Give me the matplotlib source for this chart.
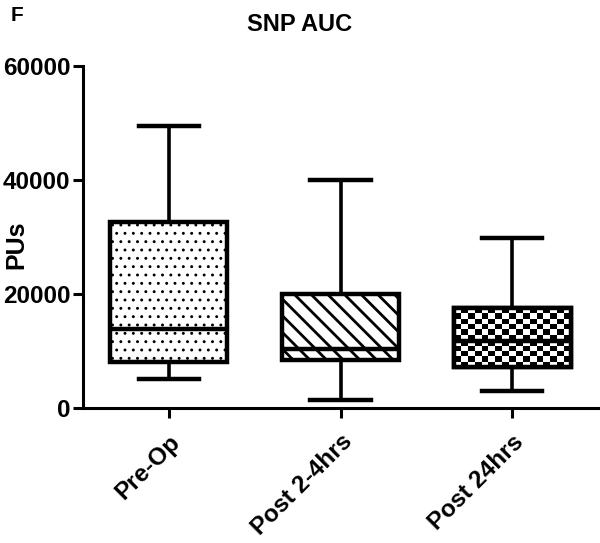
import numpy as np
import matplotlib
matplotlib.use("Agg")
import matplotlib.pyplot as plt
import matplotlib.transforms as mtransforms

# values
groups = ["Pre-Op", "Post 2-4hrs", "Post 24hrs"]
whisker_low = [5140, 1450, 3070]
q1 = [8120, 8350, 7160]
median = [13800, 10360, 11800]
q3 = [32700, 19960, 17460]
whisker_high = [49470, 40040, 29860]

plt.rcParams["font.family"] = ["Liberation Sans", "DejaVu Sans"]
plt.rcParams["font.weight"] = "bold"
plt.rcParams["hatch.linewidth"] = 2.0
plt.rcParams["hatch.color"] = "black"

fig = plt.figure(figsize=(6.0, 5.43), dpi=100)
ax = fig.add_axes([0.138, 0.2486, 0.859, 0.6299])

stats = []
for i, g in enumerate(groups):
    stats.append({"label": g, "whislo": whisker_low[i], "q1": q1[i], "med": median[i],
                  "q3": q3[i], "whishi": whisker_high[i], "fliers": []})

bp = ax.bxp(stats, positions=range(len(groups)), widths=0.68, patch_artist=True,
            showfliers=False,
            boxprops=dict(facecolor="white", edgecolor="black", linewidth=3.2),
            medianprops=dict(color="black", linewidth=3.2),
            whiskerprops=dict(color="black", linewidth=2.6),
            capprops=dict(color="black", linewidth=3.2),
            capwidths=0.35)

bp["boxes"][0].set_hatch("..")
if hasattr(bp["boxes"][0], "set_hatch_linewidth"):
    bp["boxes"][0].set_hatch_linewidth(0.9)
bp["boxes"][1].set_hatch("\\\\")

# checkerboard fill for the last box
box = bp["boxes"][2]
verts = box.get_path().vertices
x0, x1 = verts[:, 0].min(), verts[:, 0].max()
y0, y1 = verts[:, 1].min(), verts[:, 1].max()
nx, ny = 17, 11
checker = (np.add.outer(np.arange(ny), np.arange(nx)) % 2).astype(float)
im = ax.imshow(checker, cmap="gray_r", vmin=0, vmax=1.0, extent=[x0, x1, y0, y1],
               aspect="auto", interpolation="nearest", zorder=box.get_zorder() + 0.1)
im.set_clip_path(box)
ax.add_patch(plt.Rectangle((x0, y0), x1 - x0, y1 - y0, fill=False, edgecolor="black",
                           linewidth=3.2, zorder=box.get_zorder() + 0.2))
for ln in bp["medians"]:
    ln.set_zorder(box.get_zorder() + 0.3)

ax.set_xlim(-0.5, 2.5)
ax.set_ylim(0, 60000)
ax.set_yticks([0, 20000, 40000, 60000])
ax.set_xticks(range(len(groups)))
ax.set_xticklabels(groups, rotation=45, ha="right", rotation_mode="anchor",
                   fontsize=17.5, fontweight="bold")
shift = mtransforms.ScaledTranslation(-3 / 100, 0, fig.dpi_scale_trans)
for lab in ax.get_xticklabels():
    lab.set_transform(lab.get_transform() + shift)
for lab in ax.get_yticklabels():
    lab.set_fontsize(17.5)
    lab.set_fontweight("bold")

for s in ["top", "right"]:
    ax.spines[s].set_visible(False)
for s in ["left", "bottom"]:
    ax.spines[s].set_linewidth(2.2)
ax.tick_params(axis="y", width=2.2, length=7, direction="out", pad=2)
ax.tick_params(axis="x", width=2.2, length=7, direction="out", pad=9)

fig.text(0.027, 0.55, "PUs", rotation=90, ha="center", va="center",
         fontsize=18, fontweight="bold")
fig.text(0.5, 0.955, "SNP AUC", ha="center", va="center", fontsize=17, fontweight="bold")
fig.text(0.018, 0.972, "F", ha="left", va="center", fontsize=15, fontweight="bold")

fig.savefig("out.png", dpi=100)
